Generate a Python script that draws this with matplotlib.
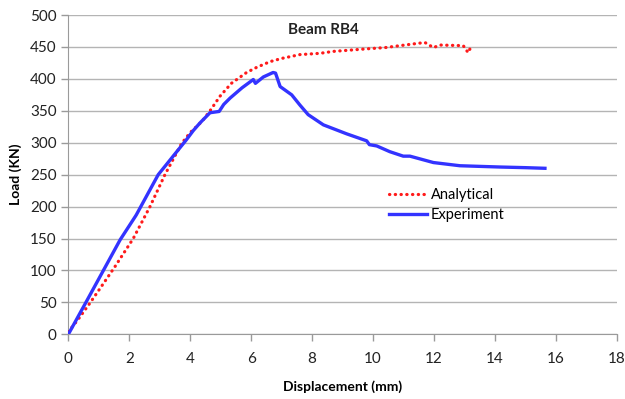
import matplotlib
matplotlib.use('Agg')
import matplotlib.pyplot as plt

plt.rcParams['font.family'] = ['Lato', 'DejaVu Sans']

# Curva experimental (desplazamiento mm, carga kN)
exp_x = [0.0, 0.6, 1.15, 1.70, 2.19, 2.23, 2.95, 3.39, 3.44,
         3.88, 4.1, 4.32, 4.65, 4.95, 5.1, 5.31, 5.7, 6.07, 6.14, 6.4, 6.72, 6.8,
         6.95, 7.33, 7.6, 7.87, 8.37, 9.13, 9.79, 9.88, 10.12, 10.55,
         10.99, 11.21, 11.98, 12.85, 14.16, 15.0, 15.64]
exp_y = [0, 52, 100, 148, 184, 187, 250, 276, 279,
         305, 319, 331, 347, 349, 360, 370, 386, 399, 393, 403, 410, 409,
         388, 375, 359, 344, 328, 314, 303, 297, 295, 286,
         279, 279, 269, 264, 262, 261, 260]

# Curva analitica
ana_x = [0.0, 0.3, 0.71, 1.1, 1.53, 2.13, 2.68, 3.17, 3.72, 4.0, 4.38, 4.65,
         4.98, 5.35, 5.85, 6.18, 6.62, 7.0, 7.6, 8.26, 8.69, 9.79, 10.4, 10.88,
         11.37, 11.7, 11.98, 12.2, 12.96, 13.12, 13.2]
ana_y = [4, 22, 49, 76, 106, 150, 200, 250, 299, 316, 333, 350,
         373, 393, 410, 418, 427, 432, 438, 440, 443, 447, 449, 452,
         455, 457, 449, 453, 452, 441, 449]

fig = plt.figure(figsize=(6.25, 3.99), dpi=100)
ax = fig.add_axes([0.1093, 0.162, 0.8777, 0.8004])

ax.plot(ana_x, ana_y, color='#ff1a1a', linestyle=(0, (0.1, 1.7)),
        linewidth=2.3, dash_capstyle='round', label='Analytical', zorder=3)
ax.plot(exp_x, exp_y, color='#3333ff', linewidth=2.4, label='Experiment', zorder=4)

ax.set_xlim(0, 18)
ax.set_ylim(0, 500)
ax.set_xticks(range(0, 19, 2))
ax.set_yticks(range(0, 501, 50))
ax.grid(axis='y', color='#b4b4b4', linewidth=1)
ax.set_axisbelow(True)
for s in ['top', 'right']:
    ax.spines[s].set_visible(False)
for s in ['left', 'bottom']:
    ax.spines[s].set_color('#9a9a9a')
ax.tick_params(axis='both', colors='#9a9a9a', labelcolor='#222222',
               labelsize=11, length=5, width=1)
ax.tick_params(axis='x', pad=8)

ax.set_xlabel('Displacement (mm)', fontsize=10, fontweight='bold', labelpad=10)
ax.set_ylabel('Load (KN)', fontsize=10, fontweight='bold', labelpad=6)
ax.text(0.465, 0.975, 'Beam RB4', transform=ax.transAxes, ha='center', va='top',
        fontsize=11, fontweight='bold', color='#222222')

ax.legend(loc='upper left', bbox_to_anchor=(0.56, 0.50), frameon=False,
          fontsize=10.5, handlelength=2.6, handletextpad=0.3, labelspacing=0.45)

plt.savefig('out.png', dpi=100)
